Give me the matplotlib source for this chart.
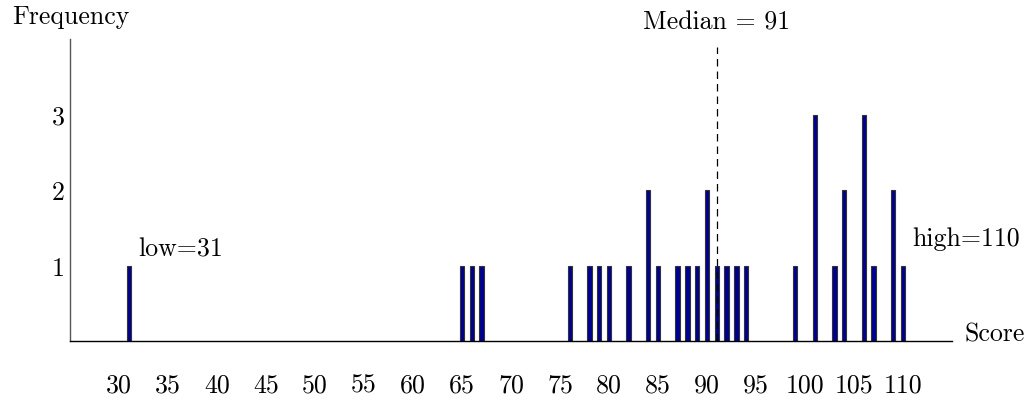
import matplotlib
matplotlib.use("Agg")
import matplotlib.pyplot as plt

scores = [31, 65, 66, 67, 76, 78, 79, 80, 82, 84, 85, 87, 88, 89, 90, 91,
          92, 93, 94, 99, 101, 103, 104, 106, 107, 109, 110]
counts = [1, 1, 1, 1, 1, 1, 1, 1, 1, 2, 1, 1, 1, 1, 2, 1,
          1, 1, 1, 1, 3, 1, 2, 3, 1, 2, 1]
xticks = list(range(30, 111, 5))
yticks = [1, 2, 3]
median = 91
low = 31
high = 110

plt.rcParams['font.family'] = 'cmr10'
plt.rcParams['mathtext.fontset'] = 'cm'
plt.rcParams['axes.unicode_minus'] = False

fig = plt.figure(figsize=(10.35, 4.02), dpi=100)
ax = fig.add_axes([70/1035, 1-342/402, (952-70)/1035, (342-40)/402])

ax.bar(scores, counts, width=0.45, color='#000090', edgecolor='#333333',
       linewidth=0.8, zorder=2)
ax.vlines(median, 0, 3.9, colors='black', linestyles=(0, (6, 4)),
          linewidth=0.9, zorder=3)

fs = 18.6
ax.set_xlim(25, 115)
ax.set_ylim(0, 4)
ax.set_xticks(xticks)
ax.set_xticklabels([str(t) for t in xticks])
ax.set_yticks(yticks)
ax.set_yticklabels([str(t) for t in yticks])
ax.tick_params(axis='x', length=0, pad=23, labelsize=fs)
ax.tick_params(axis='y', length=0, pad=4, labelsize=fs)

for s in ['top', 'right']:
    ax.spines[s].set_visible(False)
ax.spines['left'].set_color('#555555')
ax.spines['bottom'].set_color('black')
ax.spines['left'].set_linewidth(1.0)
ax.spines['bottom'].set_linewidth(1.0)

ax.text(median, 4.14, 'Median = 91', ha='center', va='baseline', fontsize=fs)
ax.text(low + 0.94, 1.13, 'low=31', ha='left', va='baseline', fontsize=fs)
ax.text(high + 0.94, 1.27, 'high=110', ha='left', va='baseline', fontsize=fs)
ax.text(1.0 + 13/882, 0, 'Score', transform=ax.get_yaxis_transform(),
        ha='left', va='baseline', fontsize=fs)
fig.text(12/1035, 1-17/402, 'Frequency', ha='left', va='center', fontsize=fs)

fig.savefig('out.png', dpi=100)
